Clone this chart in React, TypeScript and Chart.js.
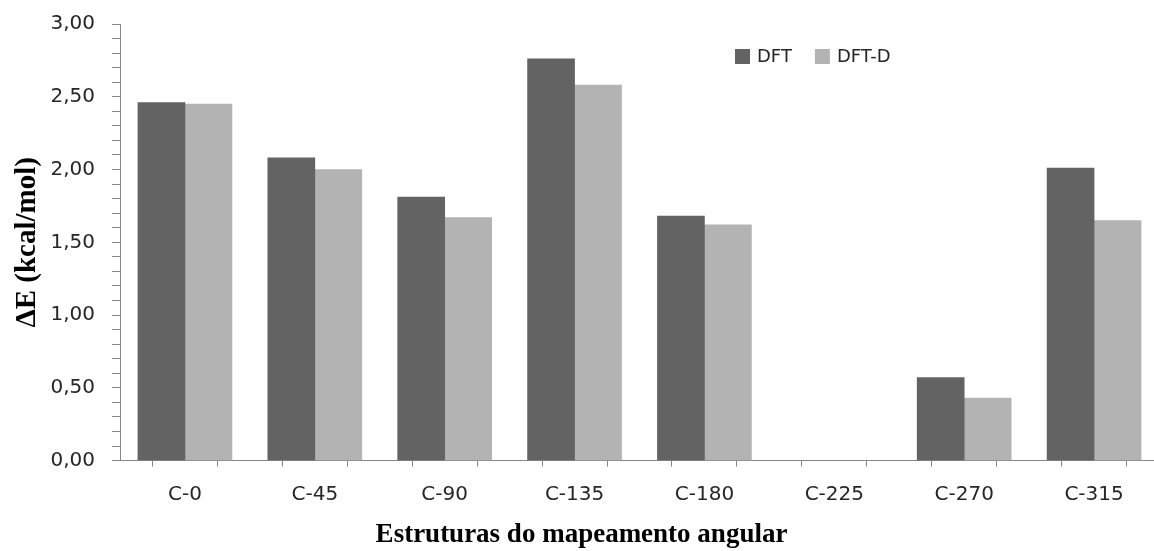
import React, { useEffect, useRef } from 'react';
import { Chart, registerables } from 'chart.js';

Chart.register(...registerables);

const categories = ['C-0', 'C-45', 'C-90', 'C-135', 'C-180', 'C-225', 'C-270', 'C-315'];
const dftValues: (number | null)[] = [2.46, 2.08, 1.81, 2.76, 1.68, null, 0.57, 2.01];
const dftDValues: (number | null)[] = [2.45, 2.0, 1.67, 2.58, 1.62, null, 0.43, 1.65];
const seriesNames = ['DFT', 'DFT-D'];
const seriesColors = ['#636363', '#b3b3b3'];
const yMajorTicks = [0, 0.5, 1, 1.5, 2, 2.5, 3];
const yTitle = 'ΔE (kcal/mol)';
const xTitle = 'Estruturas do mapeamento angular';

const axisGray = '#878787';
const textColor = '#262626';
const tickFont = { family: 'DejaVu Sans', size: 20 };

const insideLegend = {
  id: 'insideLegend',
  afterDraw(chart: any) {
    const { ctx, chartArea } = chart;
    ctx.save();
    ctx.font = '18px "DejaVu Sans"';
    ctx.textBaseline = 'middle';
    ctx.textAlign = 'left';
    let x = chartArea.left + 615;
    const y = chartArea.top + 32;
    chart.data.datasets.forEach((ds: any) => {
      ctx.fillStyle = ds.backgroundColor;
      ctx.fillRect(x, y - 7, 15, 15);
      ctx.fillStyle = textColor;
      ctx.fillText(ds.label, x + 22, y + 1);
      x += 22 + ctx.measureText(ds.label).width + 23;
    });
    ctx.restore();
  },
};

export default function App() {
  const canvasRef = useRef<HTMLCanvasElement>(null);

  useEffect(() => {
    if (!canvasRef.current) return;
    const toPoints = (vals: (number | null)[]) => vals.map((v, i) => ({ x: i, y: v }));
    const chart = new Chart(canvasRef.current, {
      type: 'bar',
      data: {
        datasets: [
          { label: seriesNames[0], data: toPoints(dftValues) as any, backgroundColor: seriesColors[0], barThickness: 47, borderWidth: 0 },
          { label: seriesNames[1], data: toPoints(dftDValues) as any, backgroundColor: seriesColors[1], barThickness: 47, borderWidth: 0 },
        ],
      },
      options: {
        responsive: false,
        animation: false,
        layout: { padding: { top: 24, right: 12, left: 0, bottom: 0 } },
        plugins: {
          legend: { display: false },
          tooltip: { enabled: false },
          title: {
            display: true,
            position: 'bottom',
            text: xTitle,
            color: '#000',
            font: { family: 'Liberation Serif', size: 27, weight: 'bold', lineHeight: 1.2 },
            padding: { top: 8, bottom: 0 },
          },
        },
        scales: {
          x: {
            type: 'linear',
            min: -0.5,
            max: categories.length - 0.5,
            offset: false,
            grid: { drawOnChartArea: false, tickLength: 6, color: axisGray, tickColor: axisGray },
            border: { color: axisGray, width: 1 },
            ticks: {
              stepSize: 0.5,
              autoSkip: false,
              maxRotation: 0,
              padding: 16,
              color: textColor,
              font: tickFont,
              callback: (value: any) => (Number.isInteger(value) ? categories[value] : ''),
            },
            afterFit: (scale: any) => {
              scale.height = 50;
            },
          },
          y: {
            min: 0,
            max: 3,
            grid: { drawOnChartArea: false, tickLength: 8, color: axisGray, tickColor: axisGray },
            border: { color: axisGray, width: 1 },
            ticks: {
              stepSize: 0.1,
              autoSkip: false,
              padding: 17,
              color: textColor,
              font: tickFont,
              callback: (value: any) => {
                const major = yMajorTicks.find((t) => Math.abs(t - value) < 1e-6);
                return major === undefined ? '' : major.toFixed(2).replace('.', ',');
              },
            },
            title: {
              display: true,
              text: yTitle,
              color: '#000',
              font: { family: 'Liberation Serif', size: 29, weight: 'bold', lineHeight: 1.2 },
              padding: { top: 10, bottom: 0 },
            },
            afterFit: (scale: any) => {
              scale.width = 120;
              scale.paddingTop = 12;
              scale.paddingBottom = 12;
            },
          },
        },
      },
      plugins: [insideLegend],
    });
    return () => chart.destroy();
  }, []);

  return (
    <div style={{ position: 'fixed', left: 0, top: 0, width: 1154, height: 551, overflow: 'hidden', background: '#fff' }}>
      <canvas ref={canvasRef} width={1175} height={551} style={{ display: 'block' }} />
    </div>
  );
}
